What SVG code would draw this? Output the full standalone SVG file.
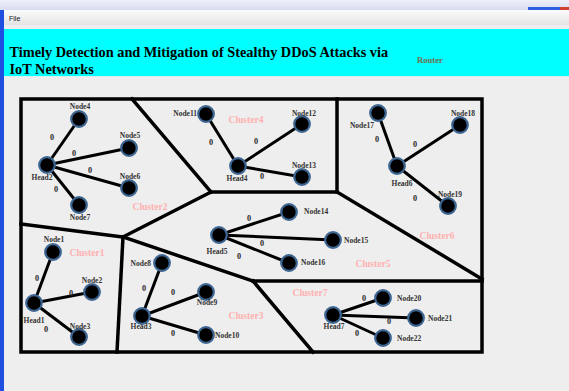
<svg xmlns="http://www.w3.org/2000/svg" width="569" height="391" viewBox="0 0 569 391">
<defs>
<linearGradient id="mb" x1="0" y1="0" x2="0" y2="1"><stop offset="0" stop-color="#fbfbfb"/><stop offset="1" stop-color="#e4e4e4"/></linearGradient>
<linearGradient id="tb" x1="0" y1="0" x2="0" y2="1"><stop offset="0" stop-color="#eef0f8"/><stop offset="1" stop-color="#d8dcf0"/></linearGradient>
<style>
.n circle{fill:#000;stroke:#3d6591;stroke-width:2.2}
.nl{font-family:"Liberation Serif",serif;font-weight:bold;font-size:7.5px;fill:#333}
.el{font-family:"Liberation Serif",serif;font-weight:bold;font-size:8.2px;fill:#2a2a2a;text-anchor:middle}
.cl{font-family:"Liberation Serif",serif;font-weight:bold;font-size:9.5px;fill:#ffb0b0;text-anchor:middle}
.m{text-anchor:middle}.e{text-anchor:end}
.part line{stroke:#000;stroke-width:3.5;stroke-linecap:square}
.edges line{stroke:#000;stroke-width:3}
</style>
</defs>
<rect x="0" y="0" width="569" height="391" fill="#eeeeee"/>
<rect x="0" y="0" width="569" height="10" fill="url(#tb)"/>
<rect x="528" y="7" width="41" height="3" fill="#2f5fe0"/>
<rect x="560" y="7" width="9" height="3" fill="#d04030"/>
<rect x="0" y="10" width="4" height="381" fill="#1f4fe0"/>
<rect x="4" y="10" width="565" height="15" fill="url(#mb)"/>
<text x="9" y="20.5" font-family="Liberation Sans, sans-serif" font-size="7px" fill="#111">File</text>
<rect x="4" y="29" width="565" height="47" fill="#00ffff"/>
<rect x="4" y="76" width="565" height="1" fill="#d8f0f0"/>
<text font-family="Liberation Serif, serif" font-weight="bold" font-size="14.3px" fill="#000"><tspan x="9.5" y="57">Timely Detection and Mitigation of Stealthy DDoS Attacks via</tspan><tspan x="9.5" y="73.5">IoT Networks</tspan></text>
<text x="417" y="62.5" font-family="Liberation Serif, serif" font-weight="bold" font-size="8.6px" fill="#6e6e4e">Router</text>

<g id="partitions" class="part">
<rect x="21" y="99" width="461" height="253" fill="none" stroke="#000" stroke-width="3.5"/>
<line x1="132" y1="99" x2="211" y2="192"/>
<line x1="211" y1="192" x2="337" y2="192"/>
<line x1="337" y1="99" x2="337" y2="192"/>
<line x1="337" y1="192" x2="482" y2="279"/>
<line x1="211" y1="192" x2="123" y2="237"/>
<line x1="21" y1="224" x2="123" y2="237"/>
<line x1="123" y1="237" x2="117" y2="352"/>
<line x1="123" y1="237" x2="253" y2="281"/>
<line x1="253" y1="281" x2="482" y2="281"/>
<line x1="253" y1="281" x2="313" y2="352"/>
</g>

<g id="clusters">
<text class="cl" x="87" y="256">Cluster1</text>
<text class="cl" x="150" y="209.5">Cluster2</text>
<text class="cl" x="246" y="318.5">Cluster3</text>
<text class="cl" x="246" y="123">Cluster4</text>
<text class="cl" x="373" y="267">Cluster5</text>
<text class="cl" x="437" y="238.5">Cluster6</text>
<text class="cl" x="310" y="296">Cluster7</text>
</g>

<g id="connectors" class="edges">
<line x1="47" y1="165" x2="79" y2="119"/>
<line x1="47" y1="165" x2="129" y2="148"/>
<line x1="47" y1="165" x2="129" y2="188"/>
<line x1="47" y1="165" x2="79" y2="205"/>
<line x1="238" y1="166" x2="206" y2="114"/>
<line x1="238" y1="166" x2="302" y2="124"/>
<line x1="238" y1="166" x2="302" y2="177"/>
<line x1="397" y1="166" x2="378" y2="113"/>
<line x1="397" y1="166" x2="460" y2="125"/>
<line x1="397" y1="166" x2="448" y2="206"/>
<line x1="219" y1="235" x2="289" y2="212"/>
<line x1="219" y1="235" x2="333" y2="240"/>
<line x1="219" y1="235" x2="289" y2="263"/>
<line x1="34" y1="303" x2="53" y2="252"/>
<line x1="34" y1="303" x2="92" y2="292"/>
<line x1="34" y1="303" x2="79" y2="337"/>
<line x1="142" y1="316" x2="162" y2="263"/>
<line x1="142" y1="316" x2="206" y2="292"/>
<line x1="142" y1="316" x2="206" y2="335"/>
<line x1="333" y1="315" x2="383" y2="298"/>
<line x1="333" y1="315" x2="416" y2="318"/>
<line x1="333" y1="315" x2="383" y2="338"/>
<text class="el" x="52" y="140">0</text>
<text class="el" x="74" y="156">0</text>
<text class="el" x="90" y="173">0</text>
<text class="el" x="56" y="192">0</text>
<text class="el" x="211" y="145">0</text>
<text class="el" x="256" y="144">0</text>
<text class="el" x="262" y="179">0</text>
<text class="el" x="377" y="141.5">0</text>
<text class="el" x="415" y="146.5">0</text>
<text class="el" x="415" y="201">0</text>
<text class="el" x="249" y="220.5">0</text>
<text class="el" x="262" y="245.5">0</text>
<text class="el" x="239" y="259">0</text>
<text class="el" x="37" y="281">0</text>
<text class="el" x="71" y="295.5">0</text>
<text class="el" x="46" y="332">0</text>
<text class="el" x="144" y="290.5">0</text>
<text class="el" x="173" y="295">0</text>
<text class="el" x="173" y="335.5">0</text>
<text class="el" x="364" y="301">0</text>
<text class="el" x="389" y="324">0</text>
<text class="el" x="357" y="335.5">0</text>
</g>

<g id="Head1" class="n"><circle cx="34" cy="303" r="7.8"/><text class="nl m" x="34" y="322.5">Head1</text></g>
<g id="Node1" class="n"><circle cx="53" cy="252" r="7.8"/><text class="nl m" x="54" y="242">Node1</text></g>
<g id="Node2" class="n"><circle cx="92" cy="292" r="7.8"/><text class="nl m" x="92" y="283">Node2</text></g>
<g id="Node3" class="n"><circle cx="79" cy="337" r="7.8"/><text class="nl m" x="80" y="329">Node3</text></g>

<g id="Head2" class="n"><circle cx="47" cy="165" r="7.8"/><text class="nl m" x="42" y="180">Head2</text></g>
<g id="Node4" class="n"><circle cx="79" cy="119" r="7.8"/><text class="nl m" x="80" y="109">Node4</text></g>
<g id="Node5" class="n"><circle cx="129" cy="148" r="7.8"/><text class="nl m" x="130" y="138">Node5</text></g>
<g id="Node6" class="n"><circle cx="129" cy="188" r="7.8"/><text class="nl m" x="130" y="178.5">Node6</text></g>
<g id="Node7" class="n"><circle cx="79" cy="205" r="7.8"/><text class="nl m" x="80" y="220">Node7</text></g>

<g id="Head3" class="n"><circle cx="142" cy="316" r="7.8"/><text class="nl m" x="141" y="329">Head3</text></g>
<g id="Node8" class="n"><circle cx="162" cy="263" r="7.8"/><text class="nl e" x="151" y="266">Node8</text></g>
<g id="Node9" class="n"><circle cx="206" cy="292" r="7.8"/><text class="nl m" x="207" y="305">Node9</text></g>
<g id="Node10" class="n"><circle cx="206" cy="335" r="7.8"/><text class="nl" x="215" y="338">Node10</text></g>

<g id="Head4" class="n"><circle cx="238" cy="166" r="7.8"/><text class="nl m" x="237" y="181">Head4</text></g>
<g id="Node11" class="n"><circle cx="206" cy="114" r="7.8"/><text class="nl e" x="197" y="116">Node11</text></g>
<g id="Node12" class="n"><circle cx="302" cy="124" r="7.8"/><text class="nl m" x="304" y="116">Node12</text></g>
<g id="Node13" class="n"><circle cx="302" cy="177" r="7.8"/><text class="nl m" x="304" y="167.5">Node13</text></g>

<g id="Head5" class="n"><circle cx="219" cy="235" r="7.8"/><text class="nl m" x="217" y="254">Head5</text></g>
<g id="Node14" class="n"><circle cx="289" cy="212" r="7.8"/><text class="nl" x="304" y="214">Node14</text></g>
<g id="Node15" class="n"><circle cx="333" cy="240" r="7.8"/><text class="nl" x="344" y="242.5">Node15</text></g>
<g id="Node16" class="n"><circle cx="289" cy="263" r="7.8"/><text class="nl" x="301" y="265">Node16</text></g>

<g id="Head6" class="n"><circle cx="397" cy="166" r="7.8"/><text class="nl m" x="402" y="186">Head6</text></g>
<g id="Node17" class="n"><circle cx="378" cy="113" r="7.8"/><text class="nl m" x="362" y="127.5">Node17</text></g>
<g id="Node18" class="n"><circle cx="460" cy="125" r="7.8"/><text class="nl m" x="463" y="116">Node18</text></g>
<g id="Node19" class="n"><circle cx="448" cy="206" r="7.8"/><text class="nl m" x="450" y="196.5">Node19</text></g>

<g id="Head7" class="n"><circle cx="333" cy="315" r="7.8"/><text class="nl m" x="334" y="329">Head7</text></g>
<g id="Node20" class="n"><circle cx="383" cy="298" r="7.8"/><text class="nl" x="397" y="300.5">Node20</text></g>
<g id="Node21" class="n"><circle cx="416" cy="318" r="7.8"/><text class="nl" x="428" y="321">Node21</text></g>
<g id="Node22" class="n"><circle cx="383" cy="338" r="7.8"/><text class="nl" x="397" y="341">Node22</text></g>
</svg>
